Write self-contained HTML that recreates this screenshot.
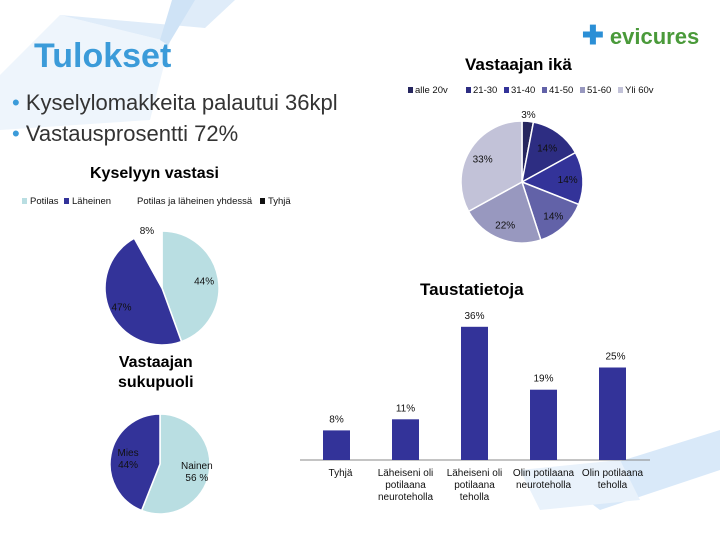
<!DOCTYPE html>
<html><head><meta charset="utf-8"><style>
body{margin:0;width:720px;height:540px;overflow:hidden;background:#fff;font-family:"Liberation Sans",sans-serif}
#root{position:relative;width:720px;height:540px}
svg{position:absolute;left:0;top:0}
.t{position:absolute;white-space:nowrap}
</style></head><body><div id="root">
<svg width="720" height="540">
<polygon points="0,75 60,15 170,42 150,120 0,130" fill="#eef5fc"/>
<polygon points="60,15 170,42 178,0 235,0 205,28" fill="#dfecf9"/>
<polygon points="172,0 195,0 168,45 160,40" fill="#cfe3f6"/>
<polygon points="560,480 720,430 720,470 600,510" fill="#d9e9f9"/>
<polygon points="520,470 620,460 640,500 540,510" fill="#e9f2fb"/>
</svg>
<svg id="chart" width="720" height="540"></svg>
<div class="t" style="left:34px;top:37px;font-size:34px;font-weight:bold;color:#3b9bd9">Tulokset</div>
<div class="t" style="left:12px;top:90px;font-size:22px;color:#333"><span style="color:#3b9bd9">•</span> Kyselylomakkeita palautui 36kpl</div>
<div class="t" style="left:12px;top:121px;font-size:22px;color:#333"><span style="color:#3b9bd9">•</span> Vastausprosentti 72%</div>
<div class="t" style="left:582px;top:20px;font-size:22px;font-weight:bold;color:#4a9a3a"><span style="color:#2b8fd6;font-size:26px">✚</span> evicures</div>
<div class="t" style="left:465px;top:55px;font-size:17px;font-weight:bold">Vastaajan ikä</div>
<div class="t" style="left:90px;top:165px;font-size:16px;font-weight:bold">Kyselyyn vastasi</div>
<div class="t" style="left:420px;top:280px;font-size:17px;font-weight:bold">Taustatietoja</div>
<div class="t" style="left:118px;top:353px;font-size:16px;font-weight:bold;text-align:center;line-height:20px">Vastaajan<br>sukupuoli</div>
</div>
<script>
const ageCats=["alle 20v","21-30","31-40","41-50","51-60","Yli 60v"];
const ageVals=[3,14,14,14,22,33];
const respCats=["Potilas","Läheinen","Potilas ja läheinen yhdessä","Tyhjä"];
const respVals=[44,47,8,0];
const genderCats=["Nainen","Mies"];
const genderVals=[56,44];
const barCats=[["Tyhjä"],["Läheiseni oli","potilaana","neuroteholla"],["Läheiseni oli","potilaana","teholla"],["Olin potilaana","neuroteholla"],["Olin potilaana","teholla"]];
const barVals=[8,11,36,19,25];
const svg=document.getElementById('chart');const NS='http://www.w3.org/2000/svg';
function mk(t,a,p){const e=document.createElementNS(NS,t);for(const k in a)e.setAttribute(k,a[k]);(p||svg).appendChild(e);return e;}
function txt(x,y,s,size,anchor,name){const e=mk('text',{x:x,y:y,'font-size':size,'text-anchor':anchor||'middle','font-family':'Liberation Sans, sans-serif',fill:'#111'});e.textContent=s;

return e;}
function pie(cx,cy,r,vals,cols,labels,prefix,lr){const tot=vals.reduce((a,b)=>a+b,0);let a0=0;vals.forEach((v,i)=>{const a1=a0+v/tot*2*Math.PI;
if(v>0){const x0=cx+r*Math.sin(a0),y0=cy-r*Math.cos(a0),x1=cx+r*Math.sin(a1),y1=cy-r*Math.cos(a1);
const p=mk('path',{d:`M${cx},${cy}L${x0},${y0}A${r},${r} 0 ${a1-a0>Math.PI?1:0} 1 ${x1},${y1}Z`,fill:cols[i],stroke:'#fff','stroke-width':1.5});


if(labels[i]){const m=(a0+a1)/2;const lines=labels[i];lines.forEach((l,j)=>txt(cx+r*lr[i]*Math.sin(m),cy-r*lr[i]*Math.cos(m)+4+(j-(lines.length-1)/2)*12,l,10,'middle',prefix+'-label-'+i));}}
a0=a1;});}
const ageCols=["#26265e","#2d2d82","#333399","#6262a8","#9898bf","#c2c2d8"];
pie(522,182,61,ageVals,ageCols,ageVals.map(v=>[v+'%']),'age',[1.12,0.7,0.75,0.75,0.75,0.75]);
ageCats.forEach((c,i)=>{const x=408+i*38+(i>0?20:0);mk('rect',{x:x,y:87,width:5,height:6,fill:ageCols[i]});txt(x+7,93,c,9.5,'start','age-legend-'+i);});
const respCols=["#b9dee2","#333399","#ffffff","#111111"];
pie(162,288,57,respVals,respCols,[[respVals[0]+'%'],[respVals[1]+'%'],[respVals[2]+'%'],null],'resp',[0.75,0.78,1.05,1]);
const lx=[30,72,137,268];respCats.forEach((c,i)=>{if(i!=2)mk('rect',{x:lx[i]-8,y:198,width:5,height:6,fill:respCols[i]});txt(lx[i],204,c,9.5,'start','resp-legend-'+i);});
pie(160,464,50,genderVals,["#b9dee2","#333399"],[["Nainen",genderVals[0]+' %'],["Mies",genderVals[1]+'%']],'gender',[0.75,0.65]);
const base=460,ppu=3.7,x0=309,step=69,bw=27;
mk('line',{x1:300,y1:base,x2:650,y2:base,stroke:'#888'});
barVals.forEach((v,i)=>{const x=x0+14+i*step;const r=mk('rect',{x:x,y:base-v*ppu,width:bw,height:v*ppu,fill:'#333399'});


txt(x+bw/2+(i==4?3:0),base-v*ppu-8,v+'%',10,'middle','bar-value-'+i);
barCats[i].forEach((l,j)=>txt(x+bw/2+(i==0?4:0),base+16+j*12,l,10,'middle','bar-category-'+i));});
</script></body></html>
